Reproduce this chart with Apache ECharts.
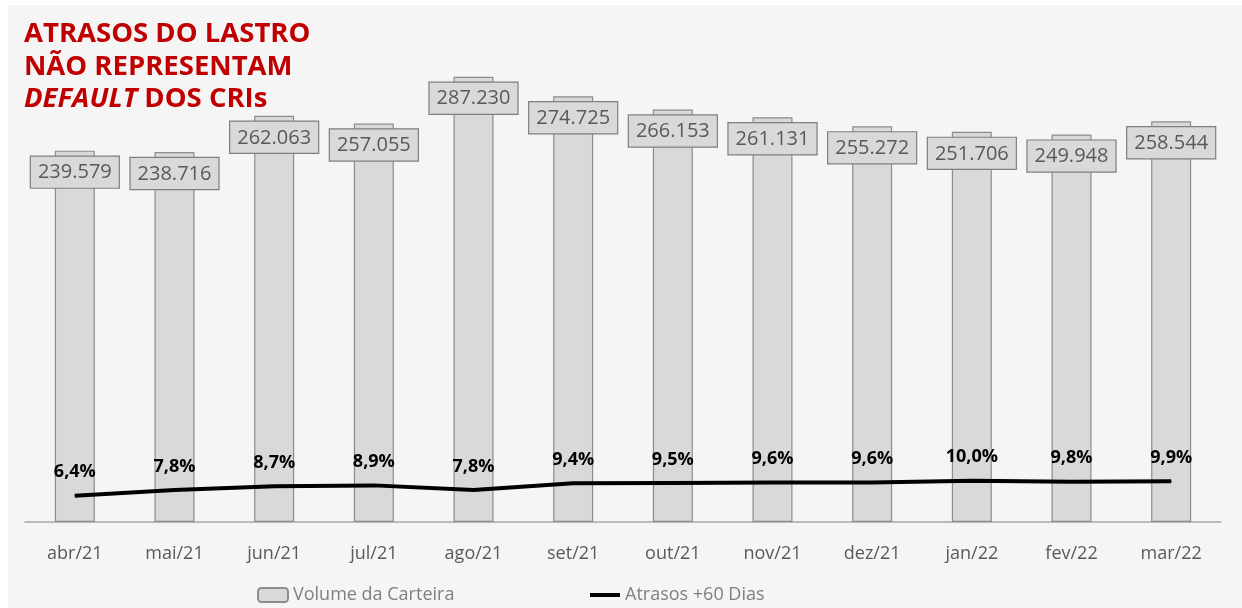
<!DOCTYPE html>
<html><head><meta charset="utf-8">
<script src="https://cdn.jsdelivr.net/npm/echarts@6/dist/echarts.min.js"></script>
<style>
html,body{margin:0;padding:0;background:#ffffff;}
#bg{position:absolute;left:8px;top:5px;width:1234px;height:603px;background:#f5f5f5;}
#c{position:absolute;left:0;top:0;width:1242px;height:608px;}
</style></head>
<body><div id="bg"></div><div id="c"></div>
<script>
const categories = ['abr/21','mai/21','jun/21','jul/21','ago/21','set/21','out/21','nov/21','dez/21','jan/22','fev/22','mar/22'];
const volumeCarteira = [239579, 238716, 262063, 257055, 287230, 274725, 266153, 261131, 255272, 251706, 249948, 258544];
const atrasos60 = [6.4, 7.8, 8.7, 8.9, 7.8, 9.4, 9.5, 9.6, 9.6, 10.0, 9.8, 9.9];
const seriesNames = ['Volume da Carteira', 'Atrasos +60 Dias'];

const FONT = 'Open Sans';
const chart = echarts.init(document.getElementById('c'));
chart.setOption({
  animation: false,
  textStyle: { fontFamily: FONT },
  title: {
    left: 19, top: 13,
    text: '{r|ATRASOS DO LASTRO}\n{r|NÃO REPRESENTAM}\n{i|DEFAULT}{r| DOS CRIs}',
    textStyle: {
      rich: {
        r: { color: '#c00000', fontSize: 27.5, fontWeight: 'bold', fontFamily: FONT, lineHeight: 32.5 },
        i: { color: '#c00000', fontSize: 27.5, fontWeight: 'bold', fontStyle: 'italic', fontFamily: FONT, lineHeight: 32.5 }
      }
    }
  },
  legend: [
    { data: [seriesNames[0]], left: 252, top: 581, itemWidth: 30, itemHeight: 14, itemGap: 4,
      textStyle: { color: '#7f7f7f', fontSize: 18, fontFamily: FONT } },
    { data: [{ name: seriesNames[1], icon: 'rect', itemStyle: { color: '#000' } }], left: 585, top: 581, itemWidth: 30, itemHeight: 4, itemGap: 4,
      textStyle: { color: '#7f7f7f', fontSize: 18, fontFamily: FONT } }
  ],
  grid: { left: 25, right: 21, top: 57, bottom: 86, containLabel: false },
  xAxis: {
    type: 'category', data: categories,
    axisLine: { lineStyle: { color: '#a6a6a6', width: 1.5 } },
    axisTick: { show: false },
    axisLabel: { color: '#595959', fontSize: 18, margin: 23, fontFamily: FONT }
  },
  yAxis: [
    { type: 'value', min: 0, max: 300000, show: false, splitLine: { show: false } },
    { type: 'value', min: 0, max: 113, show: false, splitLine: { show: false } }
  ],
  series: [
    {
      name: seriesNames[0], type: 'bar', data: volumeCarteira, barWidth: 40, yAxisIndex: 0,
      itemStyle: { color: '#d9d9d9', borderColor: '#8c8c8c', borderWidth: 1.2 },
      label: {
        show: true, position: 'insideTop', distance: 6,
        formatter: p => p.value.toLocaleString('de-DE'),
        color: '#595959', fontSize: 20, fontFamily: FONT,
        backgroundColor: '#d9d9d9', borderColor: '#7f7f7f', borderWidth: 1.2,
        padding: [6, 7, 5, 7]
      }
    },
    {
      name: seriesNames[1], type: 'line', data: atrasos60, yAxisIndex: 1,
      symbol: 'circle', symbolSize: 1, showSymbol: true,
      lineStyle: { color: '#000', width: 4 }, itemStyle: { color: '#000' },
      label: {
        show: true, position: 'top', distance: 14,
        formatter: p => p.value.toFixed(1).replace('.', ',') + '%',
        color: '#000', fontSize: 18, fontWeight: 'bold', fontFamily: FONT
      }
    }
  ]
});
</script></body></html>
